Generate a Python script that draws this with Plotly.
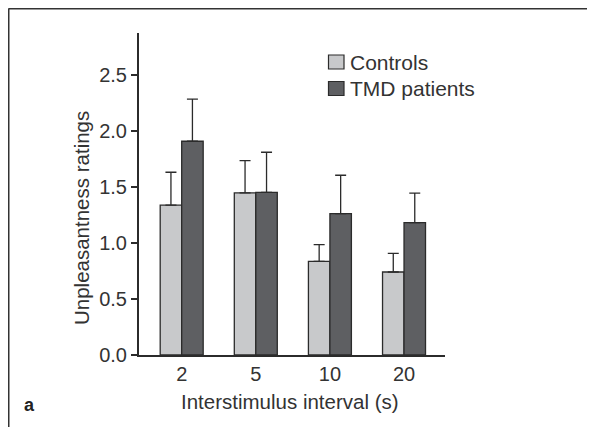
import plotly.graph_objects as go

intervals = ["2", "5", "10", "20"]
series_names = ["Controls", "TMD patients"]
controls = [1.335, 1.445, 0.835, 0.74]
controls_err = [0.294, 0.288, 0.149, 0.166]
tmd = [1.905, 1.45, 1.26, 1.18]
tmd_err = [0.375, 0.357, 0.342, 0.262]
y_ticks = [0.0, 0.5, 1.0, 1.5, 2.0, 2.5]
x_title = "Interstimulus interval (s)"
y_title = "Unpleasantness ratings"

FONT = "Liberation Sans, Arial, sans-serif"
TXT = "#333333"
EDGE = "#2b2b2b"
colors = ["#c8c9cb", "#5e5f62"]

fig = go.Figure()
for name, vals, errs, col in [
    (series_names[0], controls, controls_err, colors[0]),
    (series_names[1], tmd, tmd_err, colors[1]),
]:
    fig.add_trace(go.Bar(
        x=intervals, y=vals, name=name, showlegend=False,
        marker=dict(color=col, line=dict(color=EDGE, width=1.3)),
        error_y=dict(type="data", array=errs, arrayminus=[0] * len(errs),
                     symmetric=False, color=EDGE, thickness=1.3, width=5.5),
    ))

# page body has an 8px margin: plot area lands at x 139..445, y 33..355 of the window
fig.update_layout(
    width=595, height=427,
    margin=dict(l=131, r=158, t=25, b=80),
    paper_bgcolor="white", plot_bgcolor="white",
    barmode="group", bargap=0.42, bargroupgap=0,
    font=dict(family=FONT, color=TXT, size=20),
    xaxis=dict(type="category", range=[-0.576, 3.553], showline=True,
               linecolor=EDGE, linewidth=2, ticks="", showgrid=False,
               tickfont=dict(size=20, color=TXT)),
    yaxis=dict(range=[0, 2.87], tickvals=y_ticks, ticktext=[f"{v:.1f}" for v in y_ticks],
               showline=True, linecolor=EDGE, linewidth=2, ticks="outside",
               ticklen=6, tickwidth=2, tickcolor=EDGE, showgrid=False, zeroline=False,
               tickfont=dict(size=20, color=TXT)),
)

def px_x(p):
    return (p - 139) / 306.0

def px_y(p):
    return (355 - p) / 322.0

# axis titles
fig.add_annotation(text=x_title, xref="paper", yref="paper", x=px_x(290), y=px_y(401),
                   xanchor="center", yanchor="middle", showarrow=False,
                   font=dict(size=20.5, color=TXT))
fig.add_annotation(text=y_title, xref="paper", yref="paper", x=px_x(82), y=px_y(218),
                   xanchor="center", yanchor="middle", textangle=-90, showarrow=False,
                   font=dict(size=20.5, color=TXT))

# legend (drawn by hand for exact spacing)
for i, (name, col) in enumerate(zip(series_names, colors)):
    cy = 62 + i * 26.5
    fig.add_shape(type="rect", xref="paper", yref="paper",
                  x0=px_x(328.5), x1=px_x(344), y0=px_y(cy - 7), y1=px_y(cy + 7),
                  fillcolor=col, line=dict(color=EDGE, width=1.2))
    fig.add_annotation(text=name, xref="paper", yref="paper", x=px_x(348), y=px_y(cy),
                       xanchor="left", yanchor="middle", showarrow=False,
                       font=dict(size=21, color=TXT))

fig.add_annotation(text="<b>a</b>", xref="paper", yref="paper", x=px_x(29), y=px_y(405),
                   xanchor="center", yanchor="middle",
                   showarrow=False, font=dict(size=18, color="#222222"))
fig.add_shape(type="line", xref="paper", yref="paper", x0=px_x(8.5), x1=px_x(620), y0=px_y(8.5), y1=px_y(8.5),
              line=dict(color="#333333", width=2))
fig.add_shape(type="line", xref="paper", yref="paper", x0=px_x(8.5), x1=px_x(8.5), y0=px_y(8.5), y1=px_y(460),
              line=dict(color="#333333", width=2))

fig.write_html("out.html")
